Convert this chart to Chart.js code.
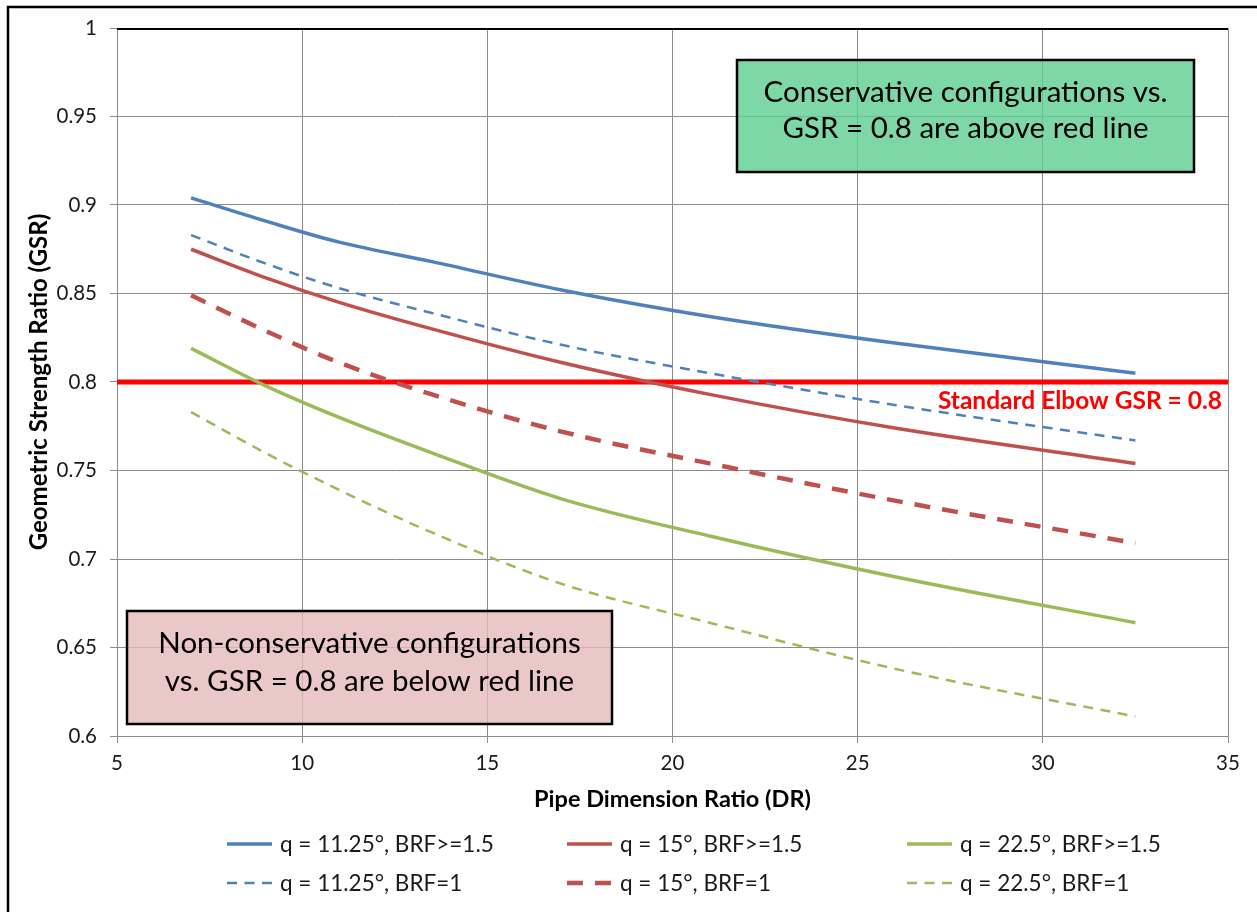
<!DOCTYPE html>
<html>
<head>
<meta charset="utf-8">
<title>Geometric Strength Ratio vs. Pipe Dimension Ratio</title>
<script src="https://cdn.jsdelivr.net/npm/chart.js@4.4.1/dist/chart.umd.min.js"></script>
<style>
  html, body { margin: 0; padding: 0; background: #ffffff; }
  #wrap { width: 1257px; height: 912px; position: relative; }
</style>
</head>
<body>
<div id="wrap"><canvas id="chart" width="1257" height="912"></canvas></div>
<script>
// Pipe dimension ratios at which the GSR was evaluated
const dr = [7, 9, 11, 13.5, 17, 21, 26, 32.5];

// Geometric strength ratio per miter angle / bend radius factor
const gsrQ1125Brf15 = [0.904, 0.891, 0.879, 0.868, 0.852, 0.837, 0.822, 0.805];
const gsrQ15Brf15   = [0.875, 0.859, 0.845, 0.830, 0.811, 0.793, 0.774, 0.754];
const gsrQ225Brf15  = [0.819, 0.798, 0.780, 0.760, 0.734, 0.713, 0.690, 0.664];
const gsrQ1125Brf1  = [0.883, 0.867, 0.853, 0.839, 0.821, 0.805, 0.787, 0.767];
const gsrQ15Brf1    = [0.849, 0.829, 0.811, 0.793, 0.772, 0.754, 0.733, 0.709];
const gsrQ225Brf1   = [0.783, 0.760, 0.739, 0.715, 0.686, 0.664, 0.638, 0.611];

const seriesNames = [
  'q = 11.25°, BRF>=1.5', 'q = 15°, BRF>=1.5', 'q = 22.5°, BRF>=1.5',
  'q = 11.25°, BRF=1', 'q = 15°, BRF=1', 'q = 22.5°, BRF=1'
];

// Reference levels
const standardElbowGsr = 0.8;
const unityGsr = 1;
const referenceSpan = [5, 35];

// Axis ticks
const xTicks = [5, 10, 15, 20, 25, 30, 35];
const yTicks = [0.6, 0.65, 0.7, 0.75, 0.8, 0.85, 0.9, 0.95, 1];

const BLUE = '#4F81BD', RED = '#C0504D', GREEN = '#9BBB59';
const FONT = 'Lato, "Open Sans", "DejaVu Sans", sans-serif';

function pts(xs, ys) { return xs.map((x, i) => ({ x: x, y: ys[i] })); }

function curve(label, values, color, width, dash) {
  return {
    label: label,
    data: pts(dr, values),
    borderColor: color,
    backgroundColor: color,
    borderWidth: width,
    borderDash: dash,
    borderCapStyle: 'butt',
    pointRadius: 0,
    pointHoverRadius: 0,
    cubicInterpolationMode: 'monotone',
    fill: false,
    showInLegend: true
  };
}

const datasets = [
  curve(seriesNames[0], gsrQ1125Brf15, BLUE, 3.5, []),
  curve(seriesNames[1], gsrQ15Brf15, RED, 3.5, []),
  curve(seriesNames[2], gsrQ225Brf15, GREEN, 3.5, []),
  curve(seriesNames[3], gsrQ1125Brf1, BLUE, 2.5, [10, 7.5]),
  curve(seriesNames[4], gsrQ15Brf1, RED, 4.5, [16, 12]),
  curve(seriesNames[5], gsrQ225Brf1, GREEN, 2.5, [10, 7.5]),
  {
    label: 'Standard Elbow',
    data: referenceSpan.map(x => ({ x: x, y: standardElbowGsr })),
    borderColor: '#FF0000', borderWidth: 5, pointRadius: 0, fill: false
  },
  {
    label: 'Unity',
    data: referenceSpan.map(x => ({ x: x, y: unityGsr })),
    borderColor: '#000000', borderWidth: 4, pointRadius: 0, fill: false
  }
];

// Text boxes, reference-line caption, outer frame and the legend grid
const decorations = {
  id: 'decorations',
  afterDatasetsDraw(chart) {
    const ctx = chart.ctx;
    const yScale = chart.scales.y;
    const area = chart.chartArea;

    // caption under the standard elbow line
    ctx.save();
    ctx.font = 'bold 24.5px ' + FONT;
    ctx.fillStyle = '#FF0000';
    ctx.textAlign = 'right';
    ctx.textBaseline = 'middle';
    ctx.fillText('Standard Elbow GSR = 0.8', area.right - 6, yScale.getPixelForValue(standardElbowGsr) + 19);
    ctx.restore();

    // translucent text boxes: grid lines stay visible through the fill
    const box = (x0, y0, x1, y1, fill, lines, lineYs) => {
      ctx.save();
      ctx.fillStyle = fill;
      ctx.globalAlpha = 0.8;
      ctx.fillRect(x0, y0, x1 - x0, y1 - y0);
      ctx.globalAlpha = 1;
      ctx.lineWidth = 2.5;
      ctx.strokeStyle = '#000000';
      ctx.strokeRect(x0, y0, x1 - x0, y1 - y0);
      ctx.font = '29.5px ' + FONT;
      ctx.fillStyle = '#000000';
      ctx.textAlign = 'center';
      ctx.textBaseline = 'middle';
      const cx = (x0 + x1) / 2;
      lines.forEach((t, i) => ctx.fillText(t, cx, lineYs[i]));
      ctx.restore();
    };
    box(737, 60, 1194, 172, '#5ECD90',
        ['Conservative configurations vs.', 'GSR = 0.8 are above red line'], [92, 128]);
    box(127, 611, 612, 724, '#E6BABA',
        ['Non-conservative configurations', 'vs. GSR = 0.8 are below red line'], [643, 681]);
  },
  afterDraw(chart) {
    const ctx = chart.ctx;
    // outer frame
    ctx.save();
    ctx.lineWidth = 2.5;
    ctx.strokeStyle = '#000000';
    ctx.strokeRect(8, 7, 1400, 1400);
    ctx.restore();

    // legend laid out in three columns, two rows
    const colX = [227, 567, 907];
    const rowY = [844, 883];
    ctx.save();
    ctx.font = '22.5px ' + FONT;
    ctx.textBaseline = 'middle';
    ctx.textAlign = 'left';
    chart.data.datasets.forEach((ds, i) => {
      if (!ds.showInLegend) return;
      const x = colX[i % 3];
      const y = rowY[Math.floor(i / 3)];
      ctx.strokeStyle = ds.borderColor;
      ctx.lineWidth = ds.borderWidth;
      ctx.setLineDash(ds.borderDash || []);
      ctx.beginPath();
      ctx.moveTo(x, y);
      ctx.lineTo(x + 45, y);
      ctx.stroke();
      ctx.setLineDash([]);
      ctx.fillStyle = '#1a1a1a';
      ctx.fillText(ds.label, x + 53, y + 1);
    });
    ctx.restore();
  }
};

const GRID = '#8C8C8C';

new Chart(document.getElementById('chart'), {
  type: 'line',
  data: { datasets: datasets },
  options: {
    responsive: false,
    animation: false,
    events: [],
    layout: { padding: { left: 10, right: 29, top: 28, bottom: 97 } },
    plugins: { legend: { display: false }, tooltip: { enabled: false } },
    scales: {
      x: {
        type: 'linear',
        min: 5, max: 35,
        afterFit(scale) { scale.height = 79; },
        afterBuildTicks(scale) { scale.ticks = xTicks.map(v => ({ value: v })); },
        grid: { color: GRID, lineWidth: 1, tickLength: 7, drawTicks: true },
        border: { color: GRID, width: 1 },
        ticks: {
          color: '#1a1a1a', padding: 8,
          font: { family: FONT, size: 20.5 },
          maxRotation: 0,
          callback: v => String(v)
        },
        title: {
          display: true, text: 'Pipe Dimension Ratio (DR)', color: '#000000',
          font: { family: FONT, size: 23.5, weight: 'bold' },
          padding: { top: 0, bottom: 1 }
        }
      },
      y: {
        type: 'linear',
        min: 0.6, max: 1,
        afterFit(scale) { scale.width = 107; },
        afterBuildTicks(scale) { scale.ticks = yTicks.map(v => ({ value: v })); },
        grid: { color: GRID, lineWidth: 1, tickLength: 7, drawTicks: true },
        border: { color: GRID, width: 1 },
        ticks: {
          color: '#1a1a1a', padding: 13,
          font: { family: FONT, size: 20.5 },
          callback: v => String(Number(v.toFixed(2)))
        },
        title: {
          display: true, text: 'Geometric Strength Ratio (GSR)', color: '#000000',
          font: { family: FONT, size: 24, weight: 'bold' },
          padding: { top: 15, bottom: 0 }
        }
      }
    }
  },
  plugins: [decorations]
});
</script>
</body>
</html>
